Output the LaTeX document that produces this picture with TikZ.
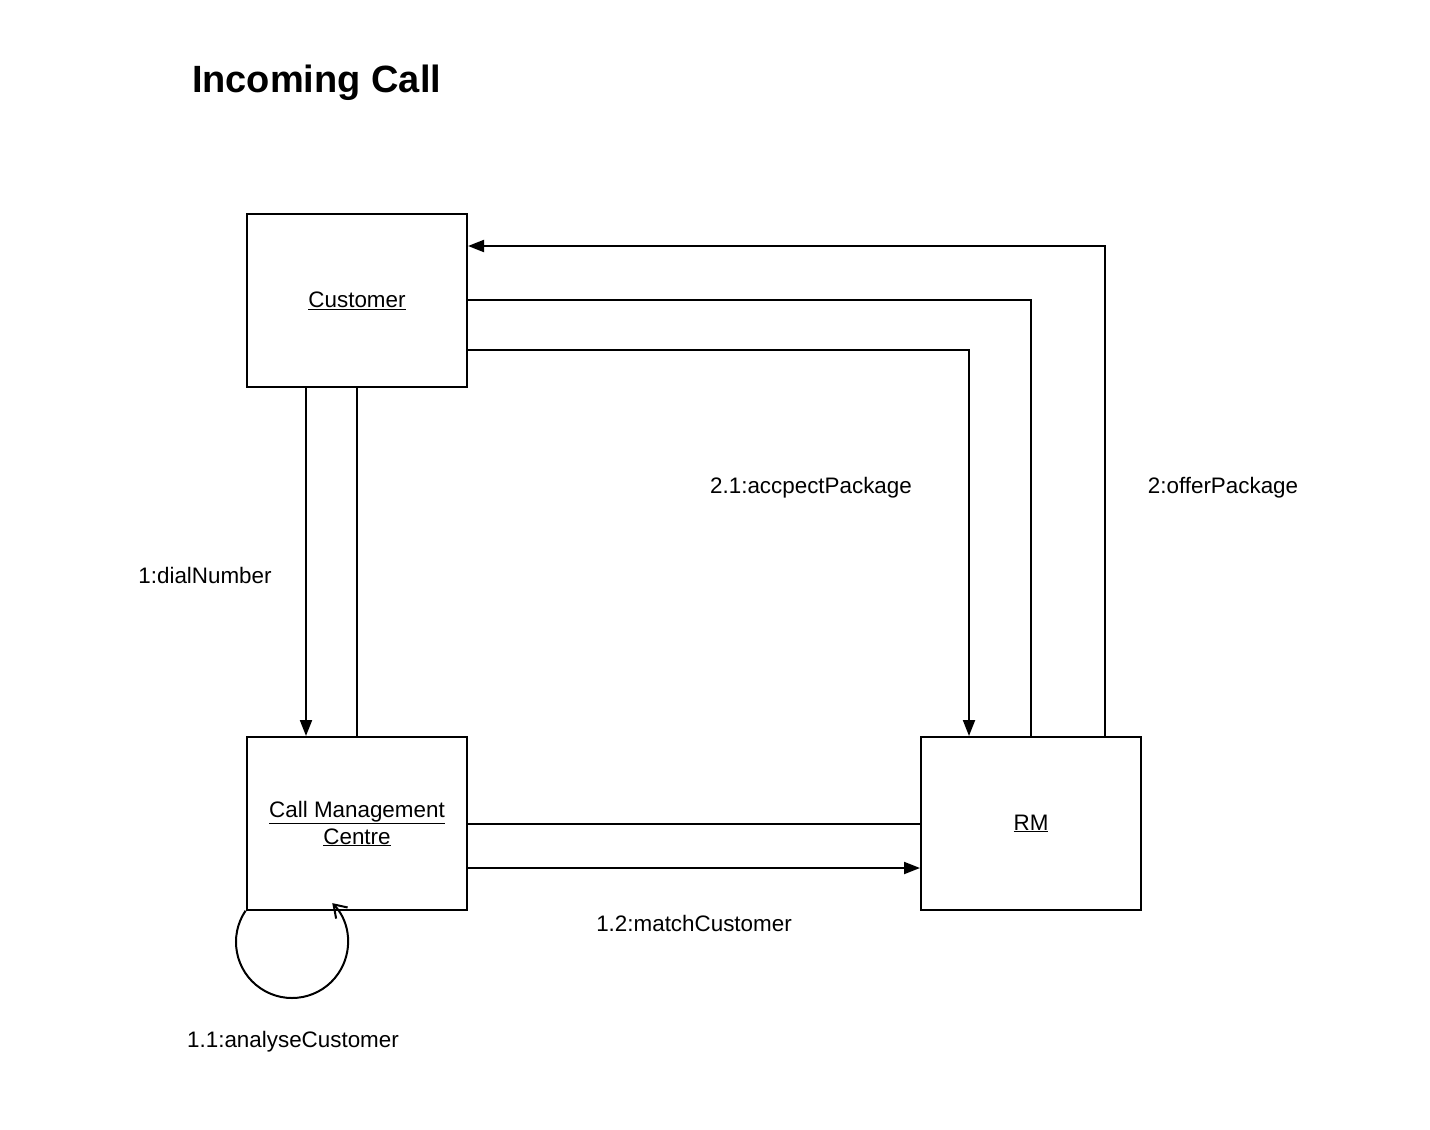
\documentclass[tikz,border=0pt]{standalone}
\usepackage{fontspec}
\setmainfont{Liberation Sans}
\usetikzlibrary{arrows.meta,calc}
\begin{document}
\begin{tikzpicture}[x=1pt,y=-1pt,
  line width=2pt,
  obj/.style={draw,rectangle,minimum width=220pt,minimum height=173pt,inner sep=0pt,align=center,font=\fontsize{22.4}{27}\selectfont},
  lbl/.style={font=\fontsize{22.4}{27}\selectfont,inner sep=0pt},
  arr/.style={-{Triangle[length=16pt,width=12pt]}}]
\useasboundingbox (0,0) rectangle (1430,1130);
\node[lbl,anchor=base west,font=\bfseries\fontsize{38}{44}\selectfont] (title) at (191,92) {Incoming Call};
\node[obj] (cust) at (357,300.5) {\underline{Customer}};
\node[obj] (cmc) at (357,823.5) {\underline{Call Management}\\\underline{Centre}};
\node[obj] (rm) at (1031,823.5) {\underline{RM}};
% Customer <-> CMC
\draw[arr] ($(cust.south west)+(60,0)$) -- ($(cmc.north west)+(60,0)$);
\draw (cust.south) -- (cmc.north);
% Customer <-> RM
\draw[arr] ($(rm.north west)+(185,0)$) |- ($(cust.north east)+(0,33)$);
\draw ($(cust.north east)+(0,87)$) -| (rm.north);
\draw[arr] ($(cust.north east)+(0,137)$) -| ($(rm.north west)+(49,0)$);
% CMC <-> RM
\draw (cmc.east) -- (rm.west);
\draw[arr] ($(cmc.east)+(0,44.5)$) -- ($(rm.west)+(0,44.5)$);
% self loop
\coordinate (lc) at ($(cmc.south west)+(46,31)$);
\draw[-{Straight Barb[length=12pt,width=16pt]}] ($(lc)+(214:56)$) arc[start angle=214,end angle=-44,radius=56];
% labels
\node[lbl] (l1) at (205,575) {1:dialNumber};
\node[lbl] (l21) at (811,488) {2.1:accpectPackage};
\node[lbl] (l2) at (1223,488) {2:offerPackage};
\node[lbl] (l12) at (694,923) {1.2:matchCustomer};
\node[lbl] (l11) at (293,1042) {1.1:analyseCustomer};
\end{tikzpicture}
\end{document}
